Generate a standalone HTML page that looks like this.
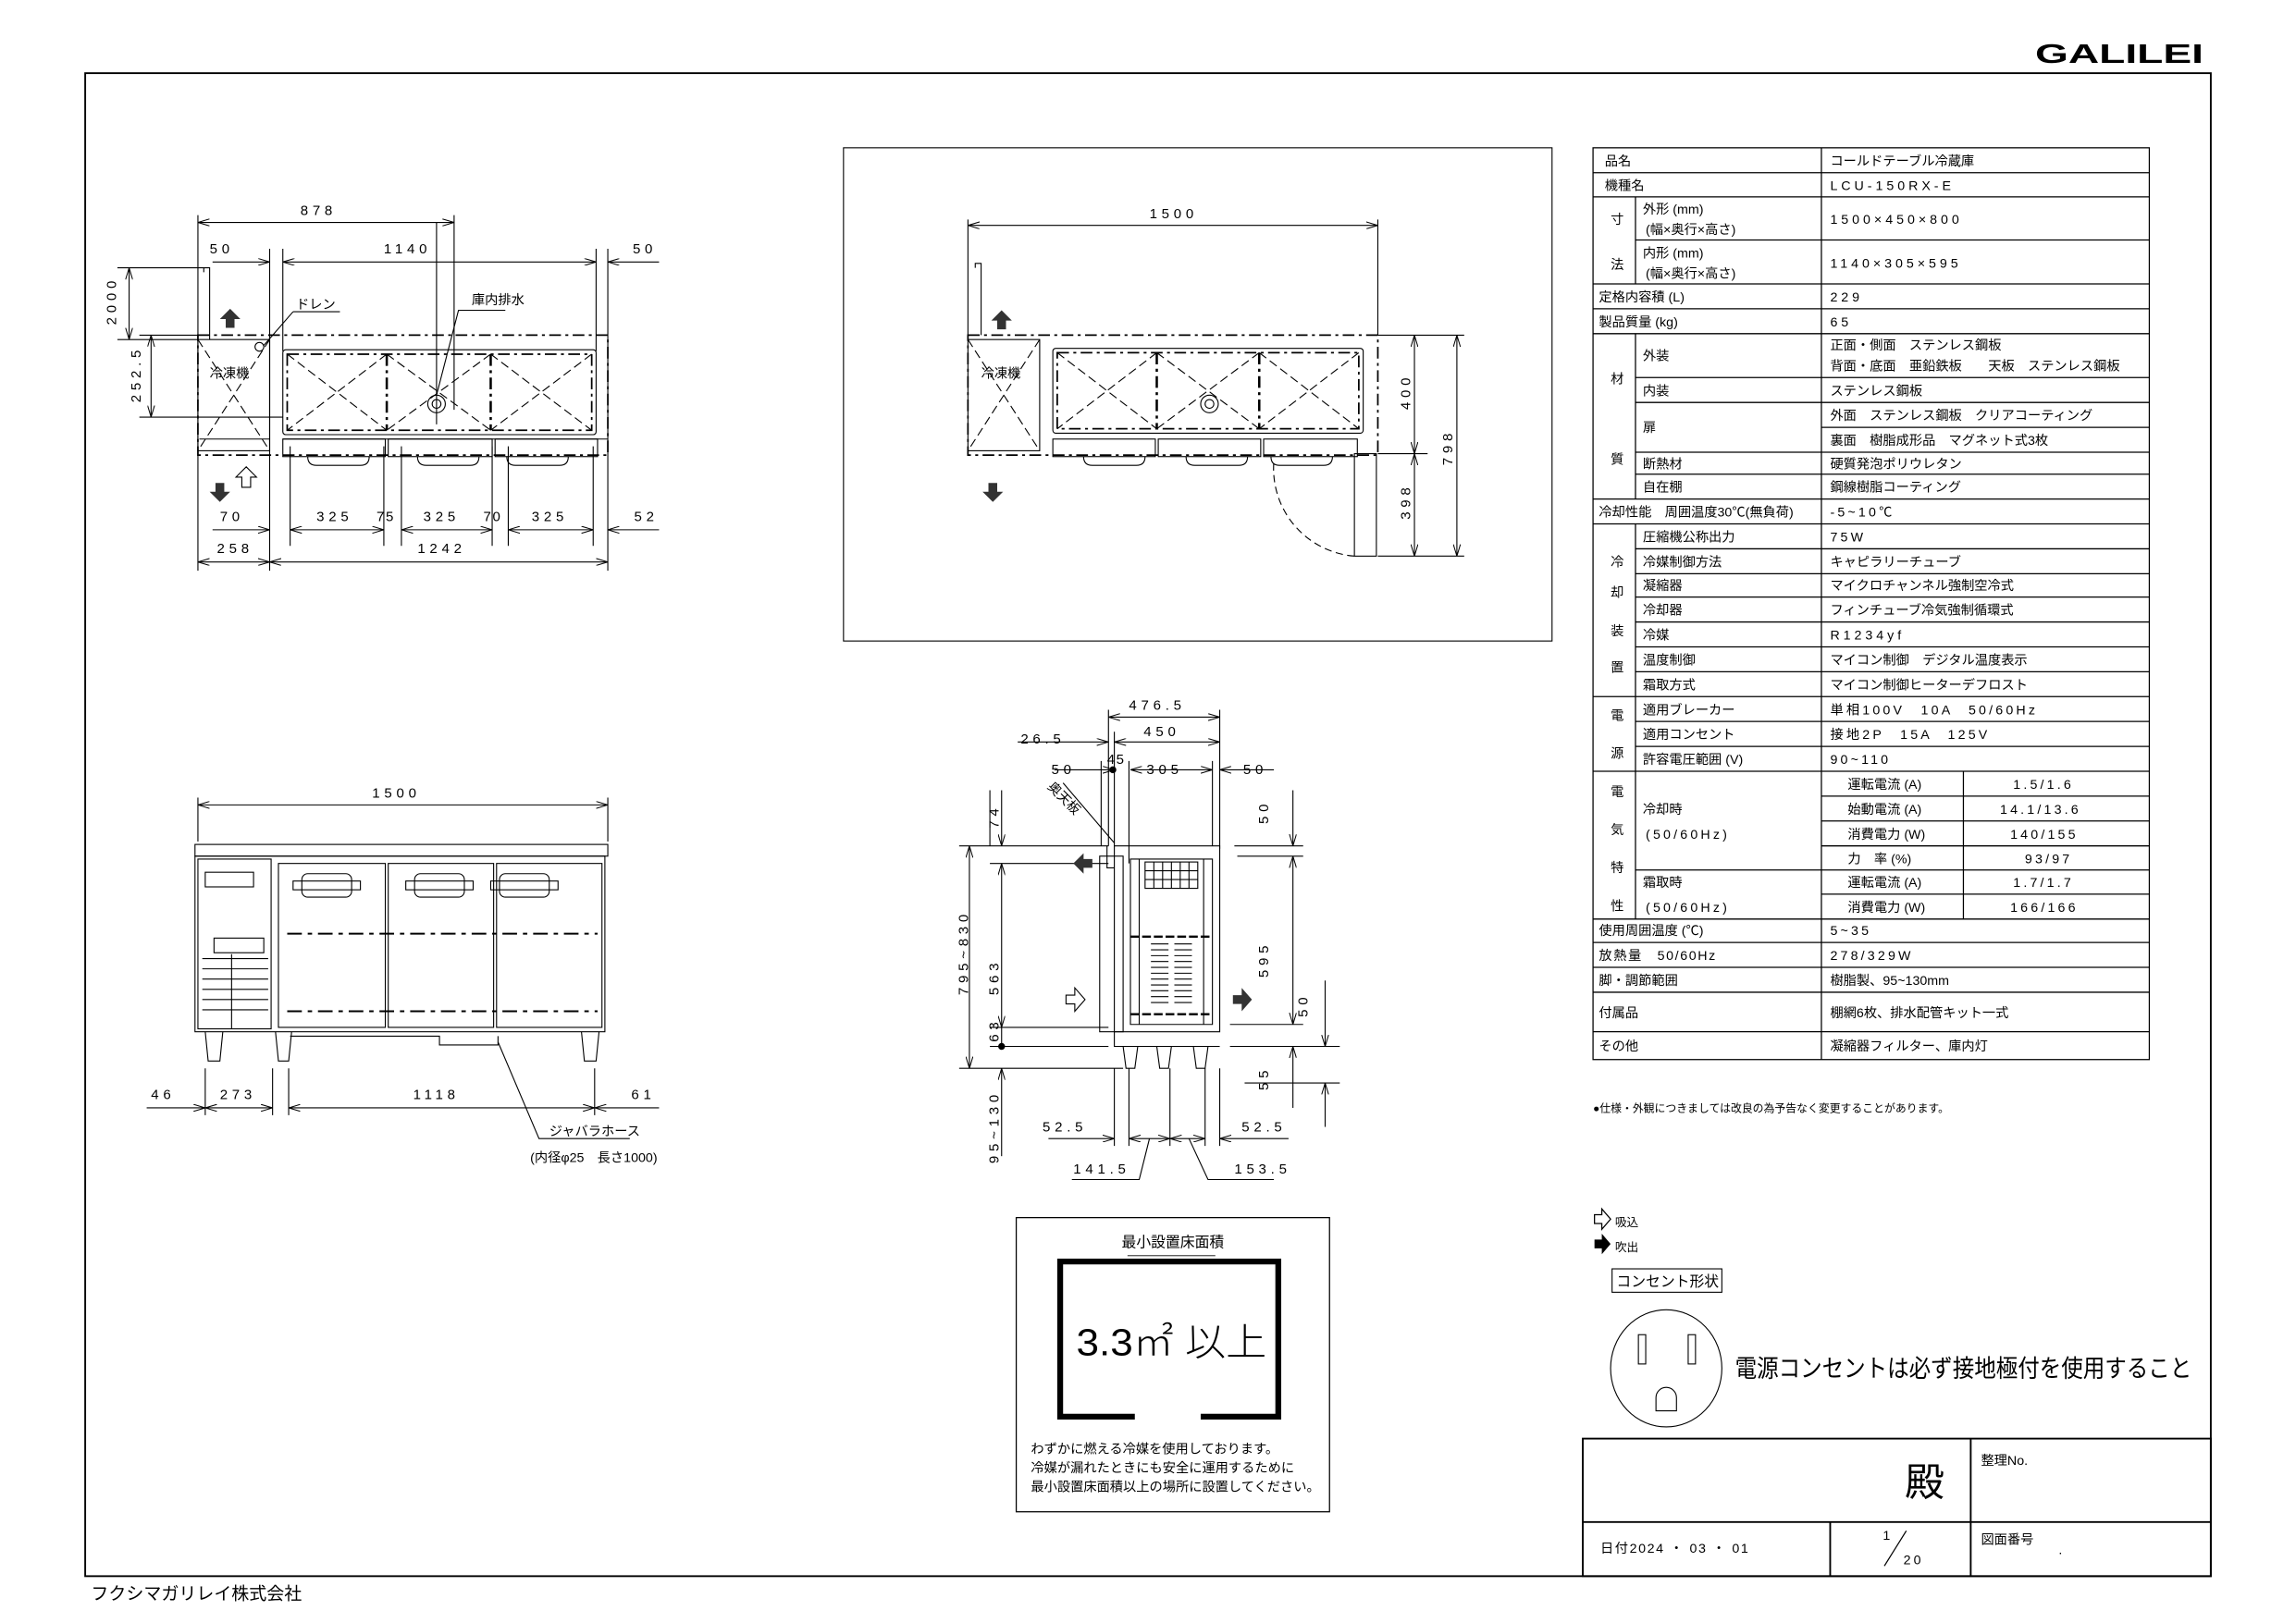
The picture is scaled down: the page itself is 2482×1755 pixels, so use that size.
<!DOCTYPE html>
<html><head><meta charset="utf-8"><style>
html,body{margin:0;padding:0;background:#fff}
svg{display:block}
text{font-family:"Liberation Sans","Noto Sans CJK JP",sans-serif;fill:#000}
.t{font-size:9px}
.d{font-size:9.5px;letter-spacing:3px}
</style></head><body>
<svg width="2482" height="1755" viewBox="0 0 1568 1109" xmlns="http://www.w3.org/2000/svg">
<defs>
<marker id="a" viewBox="0 0 10 6" refX="10" refY="3" markerWidth="8" markerHeight="5" markerUnits="userSpaceOnUse" orient="auto-start-reverse"><path d="M0,0L10,3L0,6" fill="none" stroke="#000" stroke-width="0.8"/></marker>
</defs>
<rect width="1568" height="1109" fill="#fff"/>
<g fill="none" stroke="#000" stroke-width="0.8">
<rect x="58" y="50" width="1452" height="1027" stroke-width="1.2"/>
</g>
<text x="1390" y="43" textLength="115" lengthAdjust="spacingAndGlyphs" style="font-size:18px;font-weight:bold">GALILEI</text>
<text x="62" y="1093" style="font-size:12px">フクシマガリレイ株式会社</text>

<!-- ===== TOP LEFT PLAN VIEW ===== -->
<g fill="none" stroke="#000" stroke-width="0.7">
<line x1="135" y1="147" x2="135" y2="390"/><line x1="310" y1="147" x2="310" y2="280"/>
<line x1="135" y1="152" x2="310" y2="152" marker-start="url(#a)" marker-end="url(#a)"/>
<line x1="184" y1="170" x2="184" y2="390"/><line x1="193" y1="170" x2="193" y2="240"/>
<line x1="407" y1="170" x2="407" y2="240"/><line x1="415" y1="170" x2="415" y2="390"/>
<line x1="145" y1="179" x2="184" y2="179" marker-end="url(#a)"/>
<line x1="193" y1="179" x2="407" y2="179" marker-start="url(#a)" marker-end="url(#a)"/>
<line x1="415" y1="179" x2="450" y2="179" marker-start="url(#a)"/>
<line x1="80" y1="183" x2="140" y2="183"/><line x1="80" y1="232" x2="135" y2="232"/>
<line x1="88" y1="183" x2="88" y2="232" marker-start="url(#a)" marker-end="url(#a)"/>
<line x1="95" y1="229" x2="135" y2="229"/><line x1="95" y1="285" x2="193" y2="285"/>
<line x1="103" y1="229" x2="103" y2="285" marker-start="url(#a)" marker-end="url(#a)"/>
<path d="M143,232V183H139V186M143,186V183"/>
<rect x="135" y="229" width="280" height="82" stroke-dasharray="8,3,2,3" stroke-width="1.1"/>
<rect x="135" y="232" width="49" height="76"/>
<path d="M135,232L184,308M184,232L135,308" stroke-dasharray="6,3"/>
<circle cx="177" cy="237" r="3"/>
<rect x="193" y="239" width="214" height="58" rx="2"/>
<rect x="196" y="242" width="208" height="52" stroke-dasharray="8,3,2,3" stroke-width="1.1"/>
<path d="M196,242L264,294M264,242L196,294M264,242L335,294M335,242L264,294M335,242L404,294M404,242L335,294" stroke-dasharray="6,3"/>
<path d="M264,242V294M335,242V294" stroke-width="1.6" stroke-dasharray="8,3,2,3"/>
<circle cx="298" cy="276" r="6"/><circle cx="298" cy="276" r="3"/>
<line x1="298" y1="152" x2="298" y2="290"/>
<path d="M200,213L180,236M200,213L232,213M298,270L313,212H345"/>
<path d="M136,300h48M193,300h222" />
<rect x="193" y="300" width="70" height="12"/><rect x="265" y="300" width="71" height="12"/><rect x="338" y="300" width="70" height="12"/>
<path d="M210,312q0,6 6,6h30q6,0 6,-6M285,312q0,6 6,6h30q6,0 6,-6M346,312q0,6 6,6h30q6,0 6,-6"/>
<path d="M198,373V305M262,373V305M274,373V305M336,373V305M347,373V305M405,373V305"/>
<line x1="145" y1="362" x2="184" y2="362" marker-end="url(#a)"/>
<line x1="198" y1="362" x2="262" y2="362" marker-start="url(#a)" marker-end="url(#a)"/>
<line x1="274" y1="362" x2="336" y2="362" marker-start="url(#a)" marker-end="url(#a)"/>
<line x1="347" y1="362" x2="405" y2="362" marker-start="url(#a)" marker-end="url(#a)"/>
<line x1="415" y1="362" x2="450" y2="362" marker-start="url(#a)"/>
<line x1="135" y1="384" x2="184" y2="384" marker-start="url(#a)" marker-end="url(#a)"/>
<line x1="184" y1="384" x2="415" y2="384" marker-start="url(#a)" marker-end="url(#a)"/>
<path d="M168,319l7,7h-4v7h-6v-7h-4z"/>
</g>
<path d="M157,211l7,7h-4v6h-6v-6h-4z M150,343l7,-7h-4v-6h-6v6h-4z" fill="#333"/>
<g class="d">
<text x="205" y="147">878</text><text x="143" y="173">50</text><text x="262" y="173">1140</text><text x="432" y="173">50</text>
<text x="150" y="356">70</text><text x="216" y="356">325</text><text x="257" y="356" style="letter-spacing:1px">75</text><text x="289" y="356">325</text><text x="330" y="356" style="letter-spacing:1px">70</text><text x="363" y="356">325</text><text x="433" y="356">52</text>
<text x="148" y="378">258</text><text x="285" y="378">1242</text>
</g>
<text class="d" transform="translate(79,222) rotate(-90)">2000</text>
<text class="d" transform="translate(96,275) rotate(-90)">252.5</text>
<text x="202" y="211" class="t">ドレン</text><text x="322" y="208" class="t">庫内排水</text><text x="143" y="258" class="t">冷凍機</text>

<!-- ===== TOP MIDDLE BOX ===== -->
<g fill="none" stroke="#000" stroke-width="0.7">
<rect x="576" y="101" width="484" height="337"/>
<line x1="661" y1="150" x2="661" y2="229"/><line x1="941" y1="150" x2="941" y2="229"/>
<line x1="661" y1="154" x2="941" y2="154" marker-start="url(#a)" marker-end="url(#a)"/>
<path d="M670,229V180H666V183"/>
<rect x="661" y="229" width="280" height="82" stroke-dasharray="8,3,2,3" stroke-width="1.1"/>
<rect x="661" y="232" width="49" height="76"/>
<path d="M661,232L710,308M710,232L661,308" stroke-dasharray="6,3"/>
<rect x="719" y="238" width="212" height="58" rx="2"/>
<rect x="722" y="241" width="206" height="52" stroke-dasharray="8,3,2,3" stroke-width="1.1"/>
<path d="M722,241L790,293M790,241L722,293M790,241L860,293M860,241L790,293M860,241L928,293M928,241L860,293" stroke-dasharray="6,3"/>
<path d="M790,241V293M860,241V293" stroke-width="1.6" stroke-dasharray="8,3,2,3"/>
<circle cx="826" cy="276" r="6"/><circle cx="826" cy="276" r="3"/>
<rect x="719" y="300" width="70" height="12"/><rect x="791" y="300" width="70" height="12"/><rect x="863" y="300" width="64" height="12"/>
<path d="M740,312q0,6 6,6h30q6,0 6,-6M810,312q0,6 6,6h30q6,0 6,-6M868,312q0,6 6,6h30q6,0 6,-6"/>
<rect x="925" y="310" width="15" height="70"/>
<path d="M925,380A60,60 0 0 1 870,315" stroke-dasharray="5,3"/>
<line x1="941" y1="229" x2="1000" y2="229"/><line x1="941" y1="310" x2="975" y2="310"/><line x1="941" y1="380" x2="1000" y2="380"/>
<line x1="966" y1="229" x2="966" y2="310" marker-start="url(#a)" marker-end="url(#a)"/>
<line x1="966" y1="310" x2="966" y2="380" marker-start="url(#a)" marker-end="url(#a)"/>
<line x1="995" y1="229" x2="995" y2="380" marker-start="url(#a)" marker-end="url(#a)"/>
</g>
<path d="M684,212l7,7h-4v6h-6v-6h-4z M678,343l7,-7h-4v-6h-6v6h-4z" fill="#333"/>
<text x="785" y="149" class="d">1500</text><text x="670" y="258" class="t">冷凍機</text>
<text class="d" transform="translate(963,280) rotate(-90)">400</text>
<text class="d" transform="translate(963,355) rotate(-90)">398</text>
<text class="d" transform="translate(992,318) rotate(-90)">798</text>

<!-- ===== FRONT VIEW ===== -->
<g fill="none" stroke="#000" stroke-width="0.7">
<line x1="135" y1="545" x2="135" y2="575"/><line x1="415" y1="545" x2="415" y2="575"/>
<line x1="135" y1="550" x2="415" y2="550" marker-start="url(#a)" marker-end="url(#a)"/>
<rect x="133" y="577" width="282" height="8"/>
<rect x="133" y="585" width="280" height="120"/>
<rect x="135" y="587" width="50" height="116"/>
<rect x="140" y="596" width="33" height="10"/>
<rect x="146" y="641" width="34" height="10"/>
<path d="M138,655h45M138,662h45M138,669h45M138,676h45M138,683h45M138,690h45M158,652V703"/>
<rect x="190" y="590" width="73" height="112"/><rect x="265" y="590" width="72" height="112"/><rect x="339" y="590" width="72" height="112"/>
<rect x="206" y="597" width="34" height="16" rx="4"/><rect x="200" y="602" width="46" height="6"/>
<rect x="283" y="597" width="34" height="16" rx="4"/><rect x="277" y="602" width="46" height="6"/>
<rect x="341" y="597" width="34" height="16" rx="4"/><rect x="335" y="602" width="46" height="6"/>
<path d="M196,638H408M196,691H408" stroke-width="1.3" stroke-dasharray="10,4,3,4"/>
<path d="M140,705l2,20h8l2,-20M188,705l2,20h7l2,-20M397,705l2,20h8l2,-20"/>
<path d="M198,708H300v6h40v-6"/>
<path d="M140,730V762M186,730V762M197,730V762M406,730V762"/>
<line x1="100" y1="757" x2="140" y2="757" marker-end="url(#a)"/>
<line x1="140" y1="757" x2="186" y2="757" marker-start="url(#a)" marker-end="url(#a)"/>
<line x1="197" y1="757" x2="406" y2="757" marker-start="url(#a)" marker-end="url(#a)"/>
<line x1="406" y1="757" x2="450" y2="757" marker-start="url(#a)"/>
<path d="M340,712L368,778H430"/>
</g>
<text x="254" y="545" class="d">1500</text>
<g class="d"><text x="103" y="751">46</text><text x="150" y="751">273</text><text x="282" y="751">1118</text><text x="431" y="751">61</text></g>
<text x="375" y="776" class="t">ジャバラホース</text>
<text x="362" y="794" class="t">(内径φ25　長さ1000)</text>

<!-- ===== SIDE VIEW ===== -->
<g fill="none" stroke="#000" stroke-width="0.7">
<path d="M757,485V578M833,485V580M761,500V578M752,520V578M828,520V578M771,520V590"/>
<line x1="757" y1="490" x2="833" y2="490" marker-start="url(#a)" marker-end="url(#a)"/>
<line x1="761" y1="507" x2="833" y2="507" marker-start="url(#a)" marker-end="url(#a)"/>
<line x1="695" y1="507" x2="757" y2="507" marker-end="url(#a)"/>
<line x1="720" y1="526" x2="761" y2="526" marker-end="url(#a)"/>
<line x1="772" y1="526" x2="828" y2="526" marker-start="url(#a)" marker-end="url(#a)"/>
<line x1="833" y1="526" x2="870" y2="526" marker-start="url(#a)"/>
<circle cx="760" cy="526" r="2" fill="#000"/>
<path d="M726,535L761,576"/>
<path d="M761,578H833V705H761Z"/>
<path d="M772,587H828V700H772Z"/>
<path d="M778,587V700M822,587V700"/>
<rect x="782" y="589" width="36" height="18"/><path d="M782,595h36M782,601h36M788,589v18M794,589v18M800,589v18M806,589v18M812,589v18"/>
<path d="M772,640H828M772,693H828" stroke-width="1.5" stroke-dasharray="6,2"/>
<path d="M786,645h12M786,649h12M786,653h12M786,657h12M786,661h12M786,665h12M786,669h12M786,673h12M786,677h12M786,681h12M786,685h12M802,645h12M802,649h12M802,653h12M802,657h12M802,661h12M802,665h12M802,669h12M802,673h12M802,677h12M802,681h12M802,685h12"/>
<rect x="751" y="585" width="16" height="120"/><path d="M756,578V593h5"/>
<path d="M767,715l2,15h6l2,-15M790,715l2,15h6l2,-15M815,715l2,15h6l2,-15"/>
<path d="M761,705V715H833"/>
<path d="M655,578H757M655,730H767M676,540V578M676,590H757M676,702H757M676,715H757"/>
<line x1="662" y1="578" x2="662" y2="730" marker-start="url(#a)" marker-end="url(#a)"/>
<line x1="684" y1="540" x2="684" y2="578" marker-end="url(#a)"/>
<line x1="684" y1="590" x2="684" y2="702" marker-start="url(#a)" marker-end="url(#a)"/>
<line x1="684" y1="702" x2="684" y2="715"/>
<line x1="684" y1="730" x2="684" y2="790" marker-start="url(#a)"/>
<circle cx="684" cy="715" r="2" fill="#000"/>
<path d="M843,578H890M845,585H890M840,700H890M840,715H915M850,740H915"/>
<line x1="883" y1="540" x2="883" y2="578" marker-end="url(#a)"/>
<line x1="883" y1="585" x2="883" y2="700" marker-start="url(#a)" marker-end="url(#a)"/>
<line x1="883" y1="715" x2="883" y2="757" marker-start="url(#a)"/>
<line x1="905" y1="670" x2="905" y2="715" marker-end="url(#a)"/>
<line x1="905" y1="740" x2="905" y2="770" marker-start="url(#a)"/>
<path d="M761,730V783M771,730V783M799,730V783M823,730V783M833,730V783"/>
<line x1="716" y1="778" x2="761" y2="778" marker-end="url(#a)"/>
<line x1="771" y1="778" x2="799" y2="778" marker-start="url(#a)" marker-end="url(#a)"/>
<line x1="799" y1="778" x2="823" y2="778" marker-start="url(#a)" marker-end="url(#a)"/>
<line x1="833" y1="778" x2="880" y2="778" marker-start="url(#a)"/>
<path d="M785,778L778,806H732M812,778L825,806H870"/>
<path d="M728,680h6v-5l7,8l-7,8v-5h-6z"/>
</g>
<path d="M733,590l7,-7v4h6v6h-6v4z M842,680h6v-5l7,8l-7,8v-5h-6z" fill="#333"/>
<g class="d"><text x="771" y="485">476.5</text><text x="781" y="503">450</text><text x="697" y="508">26.5</text>
<text x="718" y="529">50</text><text x="756" y="522" style="letter-spacing:1px">45</text><text x="783" y="529">305</text><text x="849" y="529">50</text>
<text x="712" y="773">52.5</text><text x="848" y="773">52.5</text><text x="733" y="802">141.5</text><text x="843" y="802">153.5</text></g>
<text class="d" transform="translate(682,566) rotate(-90)">74</text>
<text class="d" transform="translate(682,680) rotate(-90)">563</text>
<text class="d" transform="translate(682,712) rotate(-90)">63</text>
<text class="d" transform="translate(661,680) rotate(-90)">795~830</text>
<text class="d" transform="translate(682,795) rotate(-90)">95~130</text>
<text class="d" transform="translate(866,563) rotate(-90)">50</text>
<text class="d" transform="translate(866,668) rotate(-90)">595</text>
<text class="d" transform="translate(866,745) rotate(-90)">55</text>
<text class="d" transform="translate(893,695) rotate(-90)">50</text>
<text class="t" transform="translate(715,538) rotate(45)">奥天板</text>

<!-- ===== MIN FLOOR AREA ===== -->
<g fill="none" stroke="#000">
<rect x="694" y="832" width="214" height="201" stroke-width="0.8"/>
<line x1="770" y1="858" x2="830" y2="858" stroke-width="0.6"/>
<path d="M775,968H724V862H873V968H820" stroke-width="4"/>
</g>
<text x="766" y="852" style="font-size:10px">最小設置床面積</text>
<text x="735" y="926" textLength="130" lengthAdjust="spacingAndGlyphs" style="font-size:26px;font-weight:300">3.3㎡ 以上</text>
<g style="font-size:9px"><text x="704" y="993">わずかに燃える冷媒を使用しております。</text><text x="704" y="1006">冷媒が漏れたときにも安全に運用するために</text><text x="704" y="1019">最小設置床面積以上の場所に設置してください。</text></g>

<!-- ===== SPEC TABLE ===== -->
<g fill="none" stroke="#000" stroke-width="0.8">
<rect x="1088" y="101" width="380" height="623"/>
<line x1="1244" y1="101" x2="1244" y2="724"/>
<line x1="1117" y1="134.5" x2="1117" y2="194"/><line x1="1117" y1="228" x2="1117" y2="341"/><line x1="1117" y1="358" x2="1117" y2="628"/>
<line x1="1341" y1="527" x2="1341" y2="628"/>
<path d="M1088,118H1468M1088,134.5H1468M1117,164H1468M1088,194H1468M1088,211H1468M1088,228H1468M1117,258H1468M1117,275H1468M1244,292H1468M1117,309H1468M1117,324H1468M1088,341H1468M1088,358H1468M1117,375H1468M1117,392H1468M1117,408H1468M1117,425H1468M1117,442H1468M1117,459H1468M1088,476H1468M1117,493H1468M1117,510H1468M1088,527H1468M1244,544H1468M1244,561H1468M1244,578H1468M1117,594.5H1468M1244,611H1468M1088,628H1468M1088,644H1468M1088,661H1468M1088,678H1468M1088,705H1468"/>
</g>
<g class="t">
<text x="1096" y="113">品名</text><text x="1250" y="113">コールドテーブル冷蔵庫</text>
<text x="1096" y="130">機種名</text><text x="1250" y="130" style="letter-spacing:2.5px">LCU-150RX-E</text>
<text x="1100" y="153">寸</text><text x="1100" y="184">法</text>
<text x="1122" y="146">外形 (mm)</text><text x="1124" y="160">(幅×奥行×高さ)</text><text x="1250" y="153" style="letter-spacing:2.5px">1500×450×800</text>
<text x="1122" y="176">内形 (mm)</text><text x="1124" y="190">(幅×奥行×高さ)</text><text x="1250" y="183" style="letter-spacing:2.5px">1140×305×595</text>
<text x="1092" y="206">定格内容積 (L)</text><text x="1250" y="206" style="letter-spacing:2.5px">229</text>
<text x="1092" y="223">製品質量 (kg)</text><text x="1250" y="223" style="letter-spacing:2.5px">65</text>
<text x="1100" y="262">材</text><text x="1100" y="317">質</text>
<text x="1122" y="246">外装</text><text x="1250" y="239">正面・側面　ステンレス鋼板</text><text x="1250" y="253">背面・底面　亜鉛鉄板　　天板　ステンレス鋼板</text>
<text x="1122" y="270">内装</text><text x="1250" y="270">ステンレス鋼板</text>
<text x="1122" y="295">扉</text><text x="1250" y="287">外面　ステンレス鋼板　クリアコーティング</text><text x="1250" y="304">裏面　樹脂成形品　マグネット式3枚</text>
<text x="1122" y="320">断熱材</text><text x="1250" y="320">硬質発泡ポリウレタン</text>
<text x="1122" y="336">自在棚</text><text x="1250" y="336">鋼線樹脂コーティング</text>
<text x="1092" y="353">冷却性能　周囲温度30℃(無負荷)</text><text x="1250" y="353" style="letter-spacing:2px">-5~10℃</text>
<text x="1100" y="387">冷</text><text x="1100" y="408">却</text><text x="1100" y="434">装</text><text x="1100" y="459">置</text>
<text x="1122" y="370">圧縮機公称出力</text><text x="1250" y="370" style="letter-spacing:2px">75W</text>
<text x="1122" y="387">冷媒制御方法</text><text x="1250" y="387">キャピラリーチューブ</text>
<text x="1122" y="403">凝縮器</text><text x="1250" y="403">マイクロチャンネル強制空冷式</text>
<text x="1122" y="420">冷却器</text><text x="1250" y="420">フィンチューブ冷気強制循環式</text>
<text x="1122" y="437">冷媒</text><text x="1250" y="437" style="letter-spacing:2.5px">R1234yf</text>
<text x="1122" y="454">温度制御</text><text x="1250" y="454">マイコン制御　デジタル温度表示</text>
<text x="1122" y="471">霜取方式</text><text x="1250" y="471">マイコン制御ヒーターデフロスト</text>
<text x="1100" y="492">電</text><text x="1100" y="518">源</text>
<text x="1122" y="488">適用ブレーカー</text><text x="1250" y="488" style="letter-spacing:2px">単相100V　10A　50/60Hz</text>
<text x="1122" y="505">適用コンセント</text><text x="1250" y="505" style="letter-spacing:2px">接地2P　15A　125V</text>
<text x="1122" y="522">許容電圧範囲 (V)</text><text x="1250" y="522" style="letter-spacing:2px">90~110</text>
<text x="1100" y="544">電</text><text x="1100" y="570">気</text><text x="1100" y="596">特</text><text x="1100" y="622">性</text>
<text x="1122" y="556">冷却時</text><text x="1124" y="573" style="letter-spacing:2px">(50/60Hz)</text>
<text x="1122" y="606">霜取時</text><text x="1124" y="623" style="letter-spacing:2px">(50/60Hz)</text>
<text x="1262" y="539">運転電流 (A)</text><text x="1375" y="539" style="letter-spacing:2px">1.5/1.6</text>
<text x="1262" y="556">始動電流 (A)</text><text x="1366" y="556" style="letter-spacing:2px">14.1/13.6</text>
<text x="1262" y="573">消費電力 (W)</text><text x="1373" y="573" style="letter-spacing:2px">140/155</text>
<text x="1262" y="590">力　率 (%)</text><text x="1383" y="590" style="letter-spacing:2px">93/97</text>
<text x="1262" y="606">運転電流 (A)</text><text x="1375" y="606" style="letter-spacing:2px">1.7/1.7</text>
<text x="1262" y="623">消費電力 (W)</text><text x="1373" y="623" style="letter-spacing:2px">166/166</text>
<text x="1092" y="639">使用周囲温度 (℃)</text><text x="1250" y="639" style="letter-spacing:2px">5~35</text>
<text x="1092" y="656" style="letter-spacing:1px">放熱量　50/60Hz</text><text x="1250" y="656" style="letter-spacing:2px">278/329W</text>
<text x="1092" y="673">脚・調節範囲</text><text x="1250" y="673">樹脂製、95~130mm</text>
<text x="1092" y="695">付属品</text><text x="1250" y="695">棚網6枚、排水配管キット一式</text>
<text x="1092" y="718">その他</text><text x="1250" y="718">凝縮器フィルター、庫内灯</text>
</g>
<text x="1088" y="760" style="font-size:7.5px">●仕様・外観につきましては改良の為予告なく変更することがあります。</text>

<!-- legend & outlet -->
<path d="M1089,830h5v-4l6,7l-6,7v-4h-5z" fill="none" stroke="#000" stroke-width="0.8"/>
<path d="M1089,847h5v-4l6,7l-6,7v-4h-5z" fill="#000"/>
<text x="1103" y="838" style="font-size:8px">吸込</text><text x="1103" y="855" style="font-size:8px">吹出</text>
<rect x="1101" y="867" width="75" height="16" fill="none" stroke="#000" stroke-width="0.7"/>
<text x="1104" y="879" style="font-size:10px">コンセント形状</text>
<g fill="none" stroke="#000" stroke-width="0.7">
<ellipse cx="1138" cy="935" rx="38" ry="40"/>
<rect x="1119" y="912" width="5" height="20"/><rect x="1153" y="912" width="5" height="20"/>
<path d="M1131,964V955a7,7 0 0 1 14,0V964Z"/>
</g>
<text x="1185" y="941" textLength="312" lengthAdjust="spacingAndGlyphs" style="font-size:17px">電源コンセントは必ず接地極付を使用すること</text>

<!-- title block -->
<g fill="none" stroke="#000" stroke-width="1.2">
<rect x="1081" y="983" width="429" height="94"/>
<line x1="1081" y1="1040" x2="1510" y2="1040"/>
<line x1="1346" y1="983" x2="1346" y2="1077"/>
<line x1="1250" y1="1040" x2="1250" y2="1077"/>
<line x1="1287" y1="1070" x2="1302" y2="1046" stroke-width="0.8"/>
</g>
<text x="1301" y="1022" style="font-size:27px">殿</text>
<text x="1353" y="1001" style="font-size:9px">整理No.</text>
<text x="1093" y="1061" style="font-size:9px;letter-spacing:1px">日付2024 ・ 03 ・ 01</text>
<text x="1286" y="1052" style="font-size:9px">1</text><text x="1300" y="1069" style="font-size:9px;letter-spacing:2px">20</text>
<text x="1353" y="1055" style="font-size:9px">図面番号</text><text x="1406" y="1062" style="font-size:9px">.</text>
</svg>
</body></html>
